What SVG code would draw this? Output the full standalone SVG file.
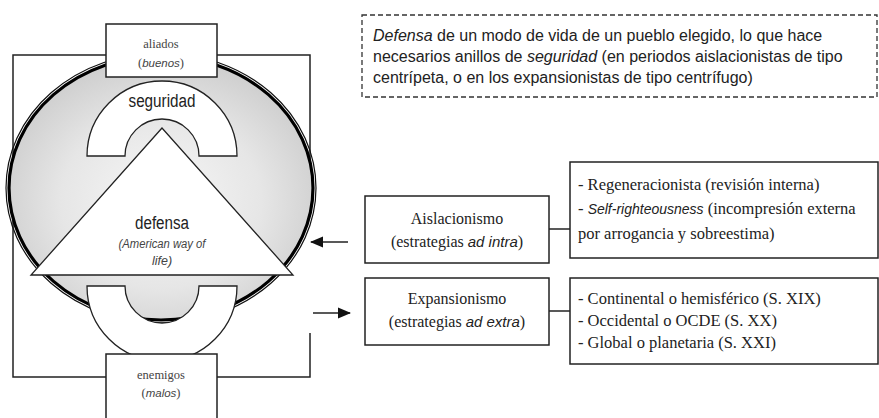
<svg xmlns="http://www.w3.org/2000/svg" width="879" height="418" viewBox="0 0 879 418">
<style>
.ln{fill:none;stroke:#222;stroke-width:1.5}
.box{fill:#fff;stroke:#222;stroke-width:1.5}
.shape{fill:#fff;stroke:#222;stroke-width:1.3}
.serif{font-family:"Liberation Serif","Times New Roman",serif;fill:#222}
.sans{font-family:"Liberation Sans",Arial,sans-serif;fill:#222}
.it{font-family:"Liberation Sans",Arial,sans-serif;font-style:italic}
.big{font-family:"Liberation Sans",Arial,sans-serif;font-size:18px;fill:#222}
.small{font-family:"Liberation Serif","Times New Roman",serif;font-size:12.5px;fill:#444}
</style>
<defs>
<radialGradient id="g" cx="0.5" cy="0.55" r="0.55">
<stop offset="0" stop-color="#f7f7f7"/>
<stop offset="0.6" stop-color="#e6e6e6"/>
<stop offset="1" stop-color="#cecece"/>
</radialGradient>
<marker id="ah" markerWidth="13" markerHeight="12" refX="12" refY="6" orient="auto" markerUnits="userSpaceOnUse">
<path d="M0,0.5 L13,6 L0,11.5 Z" fill="#111"/>
</marker>
</defs>

<g id="frame">
<path class="ln" d="M310,333 L310,377 L13,377 L13,55 L310,55 L310,180"/>
</g>

<g id="circle">
<ellipse cx="161" cy="188" rx="155" ry="135" fill="none" stroke="#111" stroke-width="1.2"/>
<ellipse cx="161" cy="188" rx="152" ry="132" fill="url(#g)" stroke="#000" stroke-width="3.2"/>
</g>

<g id="seguridad">
<path class="shape" d="M87,156 A75,75 0 0 1 237,156 L199,156 A37,37 0 0 0 125,156 Z"/>
<text class="big" x="162" y="107" text-anchor="middle" textLength="67" lengthAdjust="spacingAndGlyphs">seguridad</text>
</g>

<g id="defensa">
<polygon class="shape" points="162,128 31,275 293,275"/>
<text class="big" x="162" y="229" text-anchor="middle" textLength="54" lengthAdjust="spacingAndGlyphs">defensa</text>
<text class="it" x="162" y="248" font-size="12.5" fill="#444" text-anchor="middle" textLength="87" lengthAdjust="spacingAndGlyphs">(American way of</text>
<text class="it" x="162" y="265" font-size="12.5" fill="#444" text-anchor="middle">life)</text>
</g>

<g id="bottomring">
<path class="shape" d="M87,286 A75,75 0 0 0 237,286 L199,286 A37,37 0 0 1 125,286 Z"/>
</g>

<g id="aliados">
<rect class="box" x="106" y="24" width="111" height="53"/>
<text class="small" x="161" y="48" text-anchor="middle">aliados</text>
<text class="small" x="161" y="67" text-anchor="middle">(<tspan class="it" font-size="11.5">buenos</tspan>)</text>
</g>

<g id="enemigos">
<rect class="box" x="106" y="354" width="111" height="70"/>
<text class="small" x="161" y="379" text-anchor="middle">enemigos</text>
<text class="small" x="161" y="397" text-anchor="middle">(<tspan class="it" font-size="11.5">malos</tspan>)</text>
</g>

<g id="nota">
<rect x="362" y="15" width="515" height="82" fill="none" stroke="#333" stroke-width="1.3" stroke-dasharray="5,3"/>
<text class="sans" font-size="16" x="373" y="41"><tspan font-style="italic">Defensa</tspan> de un modo de vida de un pueblo elegido, lo que hace</text>
<text class="sans" font-size="16" x="373" y="62">necesarios anillos de <tspan font-style="italic">seguridad</tspan> (en periodos aislacionistas de tipo</text>
<text class="sans" font-size="16" x="373" y="83">centrípeta, o en los expansionistas de tipo centrífugo)</text>
</g>

<g id="aislacionismo">
<rect class="box" x="365" y="196" width="184" height="67"/>
<text class="serif" font-size="16" x="457" y="224" text-anchor="middle">Aislacionismo</text>
<text class="serif" font-size="16" x="457" y="247" text-anchor="middle">(estrategias <tspan class="it" font-size="15">ad intra</tspan>)</text>
</g>

<g id="aislacionismo-detalle">
<rect class="box" x="570" y="162" width="308" height="96"/>
<text class="serif" font-size="16.5" x="578" y="190">- Regeneracionista (revisión interna)</text>
<text class="serif" font-size="16.5" x="578" y="214">- <tspan class="it" font-size="14">Self-righteousness</tspan> (incompresión externa</text>
<text class="serif" font-size="16.5" x="578" y="239">por arrogancia y sobreestima)</text>
</g>

<g id="expansionismo">
<rect class="box" x="365" y="278" width="184" height="67"/>
<text class="serif" font-size="16" x="457" y="304" text-anchor="middle">Expansionismo</text>
<text class="serif" font-size="16" x="457" y="327" text-anchor="middle">(estrategias <tspan class="it" font-size="15">ad extra</tspan>)</text>
</g>

<g id="expansionismo-detalle">
<rect class="box" x="570" y="278" width="308" height="86"/>
<text class="serif" font-size="16.5" x="578" y="304">- Continental o  hemisférico (S. XIX)</text>
<text class="serif" font-size="16.5" x="578" y="326">- Occidental o OCDE (S. XX)</text>
<text class="serif" font-size="16.5" x="578" y="348">- Global o planetaria (S. XXI)</text>
</g>

<g id="connectors">
<line class="ln" x1="549" y1="229" x2="570" y2="229"/>
<line class="ln" x1="549" y1="311" x2="570" y2="311"/>
<line class="ln" x1="348" y1="242" x2="311" y2="242" stroke-width="2.2" marker-end="url(#ah)"/>
<line class="ln" x1="313" y1="313" x2="350" y2="313" stroke-width="2.2" marker-end="url(#ah)"/>
</g>
</svg>
